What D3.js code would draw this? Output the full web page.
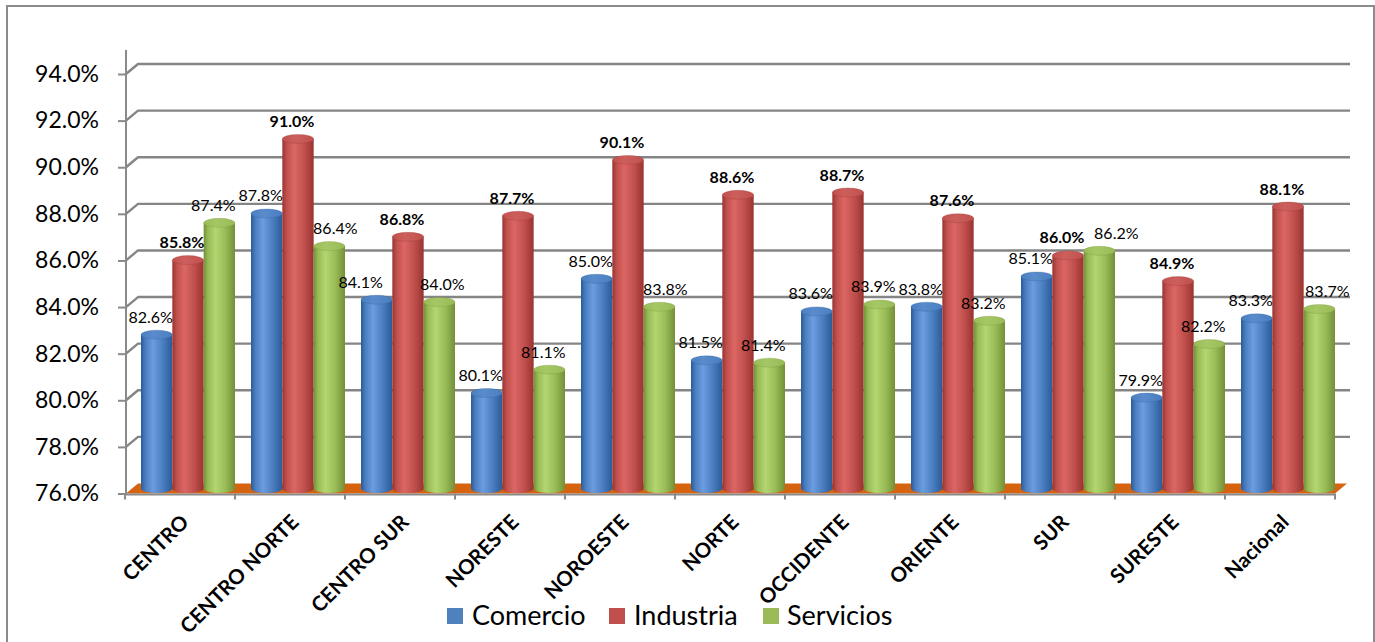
<!DOCTYPE html>
<html>
<head>
<meta charset="utf-8">
<script src="https://cdn.jsdelivr.net/npm/d3@7/dist/d3.min.js"></script>
<style>
  html, body { margin: 0; padding: 0; background: #fff; }
  svg { display: block; }
  text { font-family: Lato, "Open Sans", sans-serif; fill: #000; }
</style>
</head>
<body>
<svg id="chart" width="1375" height="642"></svg>
<script>
// Regional shares (%) by sector
const categories = ["CENTRO", "CENTRO NORTE", "CENTRO SUR", "NORESTE", "NOROESTE", "NORTE",
                    "OCCIDENTE", "ORIENTE", "SUR", "SURESTE", "Nacional"];
const seriesNames = ["Comercio", "Industria", "Servicios"];
const comercio  = [82.6, 87.8, 84.1, 80.1, 85.0, 81.5, 83.6, 83.8, 85.1, 79.9, 83.3];
const industria = [85.8, 91.0, 86.8, 87.7, 90.1, 88.6, 88.7, 87.6, 86.0, 84.9, 88.1];
const servicios = [87.4, 86.4, 84.0, 81.1, 83.8, 81.4, 83.9, 83.2, 86.2, 82.2, 83.7];
const yTicks = [76, 78, 80, 82, 84, 86, 88, 90, 92, 94];

const seriesValues = [comercio, industria, servicios];
const palette = {
  Comercio:  { dark: "#2b5b96", light: "#6b9de0", base: "#4a7ec0", top: "#5a8ccc", legend: "#4f81bd" },
  Industria: { dark: "#993330", light: "#dc6663", base: "#c0504d", top: "#cc5f5c", legend: "#c0504d" },
  Servicios: { dark: "#738f38", light: "#b4d672", base: "#98bb56", top: "#a6c766", legend: "#9bbb59" }
};

// Hand-placed value labels: horizontal shift (px) to keep them clear of neighbouring columns
const labelShift = {
  "Servicios|CENTRO NORTE": 12,
  "Comercio|CENTRO SUR": -10,
  "Servicios|CENTRO SUR": 9,
  "Servicios|NOROESTE": 12,
  "Servicios|SUR": 23,
  "Servicios|Nacional": 14
};

const svg = d3.select("#chart");

// Outer frame
svg.append("rect")
  .attr("x", 7).attr("y", 6).attr("width", 1367).attr("height", 650)
  .attr("fill", "#fff").attr("stroke", "#8c8c8c").attr("stroke-width", 2);

// Plot geometry: front plane and depth offset of the 3D box
const front = { left: 126, right: 1335, bottom: 493.5, top: 74 };
const depth = { dx: 12, dy: -10 };
const mid = { dx: 6, dy: -5 };

const x = d3.scaleBand().domain(categories).range([front.left - 1, front.right]);
const xInner = d3.scaleBand().domain(seriesNames).range([10, 104]);
const y = d3.scaleLinear().domain([76, 94]).range([front.bottom, front.top]);

// Gradients for cylinders
const defs = svg.append("defs");
seriesNames.forEach(name => {
  const c = palette[name];
  const g = defs.append("linearGradient").attr("id", "body-" + name)
    .attr("x1", "0").attr("x2", "1").attr("y1", "0").attr("y2", "0");
  [[0, c.dark], [0.14, c.base], [0.38, c.light], [0.7, c.base], [1, c.dark]]
    .forEach(([o, col]) => g.append("stop").attr("offset", o).attr("stop-color", col));
  const t = defs.append("linearGradient").attr("id", "top-" + name)
    .attr("x1", "0").attr("x2", "1").attr("y1", "0").attr("y2", "0");
  [[0, c.base], [0.4, c.top], [1, c.base]]
    .forEach(([o, col]) => t.append("stop").attr("offset", o).attr("stop-color", col));
});

// Back-wall gridlines (front tick -> diagonal -> back wall)
const grid = svg.append("g");
yTicks.slice(1).forEach(v => {
  const yy = y(v);
  grid.append("path")
    .attr("d", `M${front.left},${yy} L${front.left + depth.dx},${yy + depth.dy} L${front.right + 15},${yy + depth.dy}`)
    .attr("fill", "none").attr("stroke", "#858585").attr("stroke-width", 2.4)
    .attr("stroke-linejoin", "round");
});

// Floor
svg.append("path")
  .attr("d", `M${front.left},${front.bottom} L${front.right},${front.bottom} L${front.right + depth.dx},${front.bottom + depth.dy} L${front.left + depth.dx},${front.bottom + depth.dy} Z`)
  .attr("fill", "#d6640f");

// Vertical axis
const yAxis = d3.axisLeft(y).tickValues(yTicks).tickSize(8).tickPadding(19)
  .tickFormat(v => d3.format(".1f")(v) + "%");
const yAxisG = svg.append("g").attr("transform", `translate(${front.left},0)`).call(yAxis);
yAxisG.select(".domain").remove();
yAxisG.selectAll(".tick line").attr("stroke", "#8a8a8a").attr("stroke-width", 2);
yAxisG.selectAll(".tick text").style("font-size", "23px").attr("fill", "#000");
svg.append("line")
  .attr("x1", front.left).attr("x2", front.left).attr("y1", 50).attr("y2", front.bottom + 1)
  .attr("stroke", "#8a8a8a").attr("stroke-width", 2);

// Cylinders
const bars = svg.append("g");
categories.forEach((cat, i) => {
  seriesNames.forEach((name, s) => {
    const v = seriesValues[s][i];
    const w = xInner.bandwidth();
    const x0 = x(cat) + xInner(name) + mid.dx;
    const yTop = y(v) + mid.dy;
    const yBase = front.bottom + mid.dy;
    const rx = w / 2, ry = 4.5;
    const cx = x0 + rx;
    const g = bars.append("g");
    g.append("path")
      .attr("d", `M${x0},${yTop} L${x0},${yBase} A${rx},${ry} 0 0 0 ${x0 + w},${yBase} L${x0 + w},${yTop} Z`)
      .attr("fill", `url(#body-${name})`);
    g.append("ellipse")
      .attr("cx", cx).attr("cy", yTop).attr("rx", rx).attr("ry", ry)
      .attr("fill", `url(#top-${name})`)
      .attr("stroke", palette[name].dark).attr("stroke-opacity", 0.35).attr("stroke-width", 0.8);
  });
});

// Value labels
const labels = svg.append("g");
categories.forEach((cat, i) => {
  seriesNames.forEach((name, s) => {
    const v = seriesValues[s][i];
    const shift = labelShift[name + "|" + cat] || 0;
    labels.append("text")
      .attr("x", x(cat) + xInner(name) + xInner.bandwidth() / 2 + shift)
      .attr("y", y(v) - 17)
      .attr("text-anchor", "middle")
      .style("font-size", "16px")
      .style("font-weight", name === "Industria" ? "bold" : "normal")
      .text(d3.format(".1f")(v) + "%");
  });
});

// Horizontal axis line and category boundary ticks
svg.append("line")
  .attr("x1", front.left).attr("x2", front.right).attr("y1", front.bottom + 1).attr("y2", front.bottom + 1)
  .attr("stroke", "#8a8a8a").attr("stroke-width", 2);
categories.concat([null]).forEach(cat => {
  const xx = cat === null ? x.range()[1] : x(cat);
  svg.append("line")
    .attr("x1", xx).attr("x2", xx).attr("y1", front.bottom).attr("y2", front.bottom + 6)
    .attr("stroke", "#8a8a8a").attr("stroke-width", 2);
});

// Category labels, rotated
const xAxis = d3.axisBottom(x).tickSize(0).tickPadding(0);
const xAxisG = svg.append("g").attr("transform", `translate(0,${front.bottom})`).call(xAxis);
xAxisG.select(".domain").remove();
xAxisG.selectAll(".tick text")
  .attr("text-anchor", "end")
  .attr("dy", null).attr("y", null)
  .attr("transform", "translate(10,30) rotate(-45)")
  .style("font-size", "20.5px").style("font-weight", "bold").attr("fill", "#000");

// Legend
const legendItems = [
  { name: "Comercio",  sx: 447, tx: 472 },
  { name: "Industria", sx: 609, tx: 634 },
  { name: "Servicios", sx: 763, tx: 787 }
];
const legend = svg.append("g");
legendItems.forEach(d => {
  legend.append("rect").attr("x", d.sx).attr("y", 608).attr("width", 16).attr("height", 16)
    .attr("fill", palette[d.name].legend);
  legend.append("text").attr("x", d.tx).attr("y", 625)
    .style("font-size", "27px").text(d.name);
});
</script>
</body>
</html>
